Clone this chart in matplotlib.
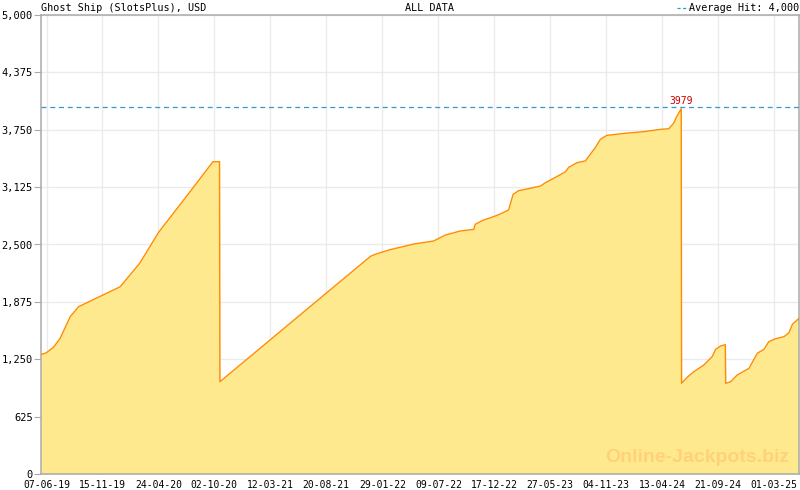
import matplotlib
matplotlib.use("Agg")
import matplotlib.pyplot as plt
import matplotlib.dates as mdates
import numpy as np
from matplotlib.ticker import FixedLocator, FuncFormatter

# jackpot history
dates = [
    "2019-05-22", "2019-06-06", "2019-06-27", "2019-07-16", "2019-08-14",
    "2019-09-07", "2020-01-05", "2020-03-02", "2020-04-24", "2020-07-24",
    "2020-09-28", "2020-10-17", "2020-10-18", "2021-12-25", "2022-01-08",
    "2022-02-16", "2022-04-29", "2022-06-25", "2022-07-29", "2022-09-10",
    "2022-10-19", "2022-10-23", "2022-11-16", "2022-12-15", "2023-01-03",
    "2023-01-27", "2023-02-09", "2023-02-25", "2023-03-21", "2023-04-29",
    "2023-05-13", "2023-05-28", "2023-06-11", "2023-07-10", "2023-07-19",
    "2023-08-12", "2023-09-05", "2023-09-14", "2023-10-04", "2023-10-18",
    "2023-11-06", "2023-12-25", "2024-02-20", "2024-04-08", "2024-05-02",
    "2024-05-16", "2024-05-26", "2024-06-07", "2024-06-08", "2024-06-24",
    "2024-07-13", "2024-08-11", "2024-09-04", "2024-09-14", "2024-09-28",
    "2024-10-12", "2024-10-13", "2024-10-27", "2024-11-15", "2024-12-19",
    "2025-01-12", "2025-01-31", "2025-02-14", "2025-03-06", "2025-03-30",
    "2025-04-13", "2025-04-23", "2025-05-12",
]
values = [
    1300, 1320, 1380, 1478, 1713,
    1822, 2040, 2300, 2630, 3075,
    3402, 3402, 1005, 2370, 2393,
    2440, 2505, 2538, 2603, 2647,
    2665, 2720, 2767, 2803, 2832,
    2876, 3046, 3087, 3105, 3137,
    3173, 3203, 3232, 3293, 3341,
    3391, 3410, 3457, 3557, 3645,
    3689, 3710, 3729, 3754, 3761,
    3820, 3900, 3979, 988, 1053,
    1114, 1187, 1278, 1358, 1394,
    1409, 988, 1005, 1078, 1151,
    1315, 1358, 1441, 1474, 1496,
    1539, 1631, 1696,
]
tick_dates = [
    "07-06-19", "15-11-19", "24-04-20", "02-10-20", "12-03-21", "20-08-21",
    "29-01-22", "09-07-22", "17-12-22", "27-05-23", "04-11-23", "13-04-24",
    "21-09-24", "01-03-25",
]
y_ticks = [0, 625, 1250, 1875, 2500, 3125, 3750, 4375, 5000]
average_hit = 4000

x = mdates.datestr2num(dates)
y = np.array(values)
major = [mdates.datestr2num("20" + d[6:] + "-" + d[3:5] + "-" + d[:2]) for d in tick_dates]
step = (major[-1] - major[0]) / (len(major) - 1)
minor = np.arange(major[0], x[-1] + 1, step / 7)

mono = "DejaVu Sans Mono"
grey = "#aaaaaa"

fig = plt.figure(figsize=(8, 4.9), dpi=100)
ax = fig.add_axes([41 / 800, 1 - 474 / 490, 758 / 800, 459 / 490])

ax.fill_between(x, y, 0, color="#fee98f", linewidth=0, zorder=2)
ax.plot(x, y, color="#ff8c00", linewidth=1.0, zorder=3)
ax.axhline(average_hit, color="#3399cc", linestyle=(0, (4, 3)), linewidth=0.9, zorder=4)

imax = int(np.argmax(y))
ax.text(x[imax], y[imax] + 30, str(y[imax]), color="#cc0000", fontsize=7,
        family=mono, ha="center", va="bottom", zorder=5)

ax.set_xlim(x[0], x[-1])
ax.set_ylim(0, 5000)

ax.xaxis.set_major_locator(FixedLocator(major))
ax.xaxis.set_minor_locator(FixedLocator(minor))
ax.set_xticklabels(tick_dates)
ax.set_yticks(y_ticks)
ax.yaxis.set_major_formatter(FuncFormatter(lambda v, p: f"{int(v):,}"))

ax.grid(True, which="major", color="#ebebeb", linewidth=1, zorder=0)
ax.set_axisbelow(True)
ax.tick_params(axis="x", which="major", direction="in", length=6, color=grey,
               labelsize=7, pad=4)
ax.tick_params(axis="x", which="minor", direction="in", length=4, color=grey)
ax.tick_params(axis="y", direction="out", length=5, color=grey, labelsize=7.5, pad=1)
for lab in ax.get_xticklabels() + ax.get_yticklabels():
    lab.set_family(mono)
for s in ax.spines.values():
    s.set_color(grey)
    s.set_linewidth(1.1)

fig.text(41 / 800, 1 - 8 / 490, "Ghost Ship (SlotsPlus), USD", family=mono,
         fontsize=7.3, va="center", ha="left")
fig.text(405 / 800, 1 - 8 / 490, "ALL DATA", family=mono, fontsize=7.3,
         va="center", ha="left")
fig.text(799 / 800, 1 - 8 / 490, "Average Hit: 4,000", family=mono,
         fontsize=7.3, va="center", ha="right")
fig.add_artist(plt.Line2D([677 / 800, 689 / 800], [1 - 8 / 490, 1 - 8 / 490],
                          color="#3399cc", linestyle=(0, (2.5, 2)), linewidth=0.9))

ax.text(0.987, 0.035, "Online-Jackpots.biz", transform=ax.transAxes,
        family="Liberation Sans", fontweight="bold", fontsize=14,
        color="#ffd27a", ha="right", va="center", zorder=3)

fig.savefig("out.png", dpi=100)
